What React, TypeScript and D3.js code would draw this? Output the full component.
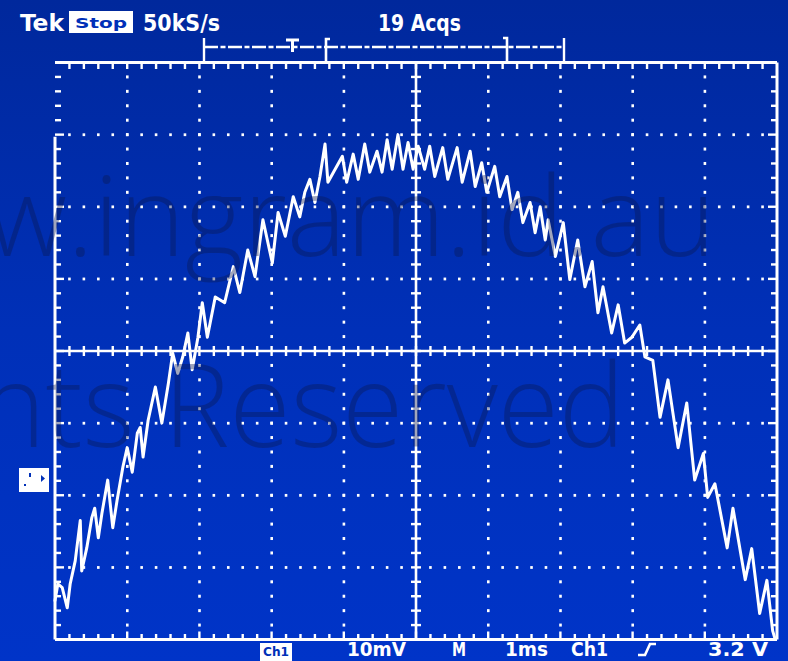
import React from "react";
import * as d3 from "d3";

const W = 788;
const H = 661;

// Oscilloscope trace: [time (ms), voltage (mV)]
const TRACE: [number, number][] = [
  [0.0, -34.6], [0.04, -32.3], [0.1, -32.8], [0.17, -35.6], [0.21, -32.3], [0.28, -29.1],
  [0.35, -23.5], [0.37, -30.5], [0.44, -27.3], [0.51, -23.1], [0.55, -21.8], [0.6, -25.9],
  [0.65, -22.5], [0.73, -17.9], [0.8, -24.5], [0.86, -20.7], [0.94, -16.1], [1.0, -13.4],
  [1.07, -16.8], [1.14, -11.4], [1.18, -10.6], [1.22, -14.7], [1.29, -9.6], [1.39, -5.0],
  [1.48, -10.0], [1.57, -4.5], [1.63, -0.3], [1.7, -3.1], [1.77, -0.8], [1.84, 2.5],
  [1.9, -2.6], [1.98, 1.9], [2.04, 6.7], [2.11, 1.9], [2.22, 7.5], [2.35, 6.7],
  [2.47, 11.7], [2.56, 8.1], [2.67, 14.0], [2.77, 10.3], [2.88, 18.2], [3.01, 12.2],
  [3.09, 19.2], [3.19, 15.9], [3.3, 21.4], [3.39, 18.6], [3.46, 22.0], [3.53, 23.8],
  [3.6, 20.6], [3.67, 24.2], [3.74, 28.7], [3.78, 23.4], [3.88, 25.2], [3.98, 27.0],
  [4.04, 23.4], [4.13, 27.3], [4.2, 23.8], [4.29, 28.7], [4.36, 24.8], [4.46, 27.7],
  [4.53, 24.8], [4.6, 29.3], [4.67, 25.2], [4.75, 30.0], [4.82, 25.2], [4.89, 28.9],
  [4.96, 25.2], [5.03, 28.4], [5.12, 25.2], [5.19, 28.4], [5.26, 24.2], [5.37, 28.2],
  [5.44, 23.8], [5.57, 28.2], [5.64, 23.4], [5.75, 27.7], [5.82, 22.8], [5.91, 26.1],
  [5.98, 22.0], [6.09, 25.6], [6.16, 21.4], [6.26, 24.2], [6.33, 19.6], [6.41, 22.0],
  [6.48, 17.8], [6.58, 20.6], [6.65, 16.4], [6.72, 20.0], [6.79, 15.4], [6.83, 18.2],
  [6.93, 13.1], [7.04, 17.8], [7.13, 9.9], [7.24, 15.4], [7.34, 8.9], [7.44, 12.4],
  [7.52, 5.3], [7.59, 8.9], [7.71, 2.5], [7.8, 6.4], [7.89, 1.1], [7.99, 1.9],
  [8.1, 3.6], [8.17, -0.8], [8.28, -1.3], [8.38, -9.2], [8.49, -4.0], [8.63, -13.4],
  [8.75, -7.2], [8.86, -17.9], [8.98, -14.2], [9.04, -20.3], [9.14, -18.4], [9.31, -27.3],
  [9.39, -21.8], [9.56, -31.7], [9.65, -27.4], [9.76, -36.4], [9.86, -31.8], [9.94, -38.8],
  [9.97, -39.8],
];

const TIME_DOMAIN = [0, 10];
const VOLT_DOMAIN = [-40, 40];
const TIME_MAJORS = [1, 2, 3, 4, 6, 7, 8, 9];
const VOLT_MAJORS = [-30, -20, -10, 10, 20, 30];

const HEADER_LABELS = ["Tek", "Stop", "50kS/s", "19 Acqs"];
const FOOTER_LABELS = ["Ch1", "10mV", "M", "1ms", "Ch1", "3.2 V"];
const WATERMARK_LINES = ["w.ingram.id.au", "nts Reserved"];

const SCOPE_FONT = "'DejaVu Sans Condensed', 'DejaVu Sans', sans-serif";

export default function App() {
  const x = d3.scaleLinear().domain(TIME_DOMAIN).range([55, 777]);
  const y = d3.scaleLinear().domain(VOLT_DOMAIN).range([639.5, 62.5]);
  const minorT = d3.range(0, 50.5, 1).map((i) => i * 0.2);
  const minorV = d3.range(0, 40.5, 1).map((i) => -40 + i * 2);
  const isMajorT = (t: number) => Math.abs(t - Math.round(t)) < 1e-6;
  const isMajorV = (v: number) => Math.abs(v / 10 - Math.round(v / 10)) < 1e-6;

  const line = d3
    .line<[number, number]>()
    .x((d) => x(d[0]))
    .y((d) => y(d[1]))
    .curve(d3.curveLinear);

  const x0 = x(0), x1 = x(10), y0 = y(40), y1 = y(-40), xc = x(5), yc = y(0);
  const white = "#ffffff";
  const blueText = "#0030b8";

  const dots: JSX.Element[] = [];
  TIME_MAJORS.forEach((t) =>
    minorV.forEach((v, i) => {
      if (v <= -40 || v >= 40 || v === 0) return;
      dots.push(<rect key={`vd${t}-${i}`} x={x(t) - 1.2} y={y(v) - 1.5} width={2.6} height={3} fill={white} />);
    })
  );
  VOLT_MAJORS.forEach((v) =>
    minorT.forEach((t, i) => {
      if (t <= 0 || t >= 10 || Math.abs(t - 5) < 1e-6) return;
      dots.push(<rect key={`hd${v}-${i}`} x={x(t) - 1.3} y={y(v) - 1.3} width={2.6} height={2.8} fill={white} />);
    })
  );

  const ticks: JSX.Element[] = [];
  minorT.forEach((t, i) => {
    if (t <= 0 || t >= 10) return;
    const len = isMajorT(t) ? 8 : 5.5;
    ticks.push(<line key={`tt${i}`} x1={x(t)} x2={x(t)} y1={y0} y2={y0 + 6.5} stroke={white} strokeWidth={2.4} />);
    ticks.push(<line key={`bt${i}`} x1={x(t)} x2={x(t)} y1={y1} y2={y1 - len} stroke={white} strokeWidth={2.4} />);
    ticks.push(<line key={`ct${i}`} x1={x(t)} x2={x(t)} y1={yc - 5} y2={yc + 5} stroke={white} strokeWidth={2.4} />);
  });
  minorV.forEach((v, i) => {
    if (v <= -40 || v >= 40) return;
    const len = isMajorV(v) ? 9 : 6;
    ticks.push(<line key={`lt${i}`} x1={x0} x2={x0 + len} y1={y(v)} y2={y(v)} stroke={white} strokeWidth={2.4} />);
    ticks.push(<line key={`rt${i}`} x1={x1} x2={x1 - len} y1={y(v)} y2={y(v)} stroke={white} strokeWidth={2.4} />);
    ticks.push(<line key={`mt${i}`} x1={xc - 5} x2={xc + 5} y1={y(v)} y2={y(v)} stroke={white} strokeWidth={2.4} />);
  });

  const textStyle = { fontFamily: SCOPE_FONT, fontWeight: 700 as const };

  return (
    <svg
      width={W}
      height={H}
      viewBox={`0 0 ${W} ${H}`}
      style={{ position: "absolute", left: 0, top: 0, display: "block" }}
    >
      <defs>
        <linearGradient id="bg" x1="0" y1="0" x2="0" y2="1">
          <stop offset="0" stopColor="#00289c" />
          <stop offset="0.5" stopColor="#0030b8" />
          <stop offset="1" stopColor="#0034c8" />
        </linearGradient>
      </defs>
      <rect x={0} y={0} width={W} height={H} fill="url(#bg)" />

      {/* grid dots */}
      <g>{dots}</g>

      {/* center cross */}
      <line x1={x0} x2={x1} y1={yc} y2={yc} stroke={white} strokeWidth={2.6} />
      <line x1={xc} x2={xc} y1={y0} y2={y1} stroke={white} strokeWidth={2.6} />

      {/* frame (left edge shows a gap near the top in the capture) */}
      <line x1={x0} x2={x1} y1={y0} y2={y0} stroke={white} strokeWidth={3} />
      <line x1={x0} x2={x1} y1={y1} y2={y1} stroke={white} strokeWidth={3} />
      <line x1={x0} x2={x0} y1={y(30) + 2} y2={y1} stroke={white} strokeWidth={3} />
      <line x1={x1} x2={x1} y1={y0} y2={y1} stroke={white} strokeWidth={3} />
      <g>{ticks}</g>

      {/* trace */}
      <path d={line(TRACE) || ""} fill="none" stroke={white} strokeWidth={3} strokeLinejoin="round" strokeLinecap="round" />

      {/* trigger / record bar */}
      <g stroke={white} strokeWidth={2.4} fill="none">
        <line x1={204} x2={204} y1={38} y2={y0} />
        <line x1={564} x2={564} y1={38} y2={y0} />
        <line x1={204} x2={564} y1={47} y2={47} strokeDasharray="14 2.5 5 2.5" />
        <line x1={286} x2={299} y1={40} y2={40} strokeWidth={3} />
        <line x1={292.5} x2={292.5} y1={40} y2={52} strokeWidth={3} />
        <path d={`M 330 39 L 326 39 L 326 ${y0}`} strokeWidth={2.6} />
        <path d={`M 503 38 L 507 38 L 507 ${y0}`} strokeWidth={2.6} />
      </g>

      {/* header */}
      <text x={20} y={31} fill={white} fontSize={23} textLength={44} lengthAdjust="spacingAndGlyphs" style={textStyle}>
        {HEADER_LABELS[0]}
      </text>
      <rect x={69} y={11} width={64} height={22} fill={white} />
      <text x={75} y={28} fill={blueText} fontSize={14} textLength={52} lengthAdjust="spacingAndGlyphs" style={textStyle}>
        {HEADER_LABELS[1]}
      </text>
      <text x={143} y={31} fill={white} fontSize={23} textLength={77} lengthAdjust="spacingAndGlyphs" style={textStyle}>
        {HEADER_LABELS[2]}
      </text>
      <text x={378} y={31} fill={white} fontSize={23} textLength={83} lengthAdjust="spacingAndGlyphs" style={textStyle}>
        {HEADER_LABELS[3]}
      </text>

      {/* channel ground marker */}
      <rect x={19} y={468} width={30} height={24} fill={white} />
      <rect x={29} y={473} width={2} height={4} fill={blueText} />
      <rect x={24} y={484} width={2} height={2} fill={blueText} />
      <path d="M 41 475 L 45 478.5 L 41 482 Z" fill={blueText} />

      {/* footer */}
      <rect x={260} y={643} width={32} height={18} fill={white} />
      <text x={263} y={656} fill={blueText} fontSize={12} textLength={26} lengthAdjust="spacingAndGlyphs" style={textStyle}>
        {FOOTER_LABELS[0]}
      </text>
      <text x={347} y={656} fill={white} fontSize={20} textLength={59} lengthAdjust="spacingAndGlyphs" style={textStyle}>
        {FOOTER_LABELS[1]}
      </text>
      <text x={452} y={656} fill={white} fontSize={20} textLength={14} lengthAdjust="spacingAndGlyphs" style={textStyle}>
        {FOOTER_LABELS[2]}
      </text>
      <text x={505} y={656} fill={white} fontSize={20} textLength={43} lengthAdjust="spacingAndGlyphs" style={textStyle}>
        {FOOTER_LABELS[3]}
      </text>
      <text x={571} y={656} fill={white} fontSize={20} textLength={37} lengthAdjust="spacingAndGlyphs" style={textStyle}>
        {FOOTER_LABELS[4]}
      </text>
      <path d="M 638 655 L 645 655 L 650 644 L 656 644" stroke={white} strokeWidth={2.6} fill="none" />
      <text x={708} y={656} fill={white} fontSize={20} textLength={60} lengthAdjust="spacingAndGlyphs" style={textStyle}>
        {FOOTER_LABELS[5]}
      </text>

      {/* watermark */}
      <g fill="#0a1850" opacity={0.38} style={{ fontFamily: "'Open Sans', sans-serif", fontWeight: 300 }}>
        <text x={-14} y={256} fontSize={110} textLength={730} lengthAdjust="spacingAndGlyphs">{WATERMARK_LINES[0]}</text>
        <text x={-20} y={447} fontSize={116} textLength={645} lengthAdjust="spacingAndGlyphs">{WATERMARK_LINES[1]}</text>
      </g>
    </svg>
  );
}
